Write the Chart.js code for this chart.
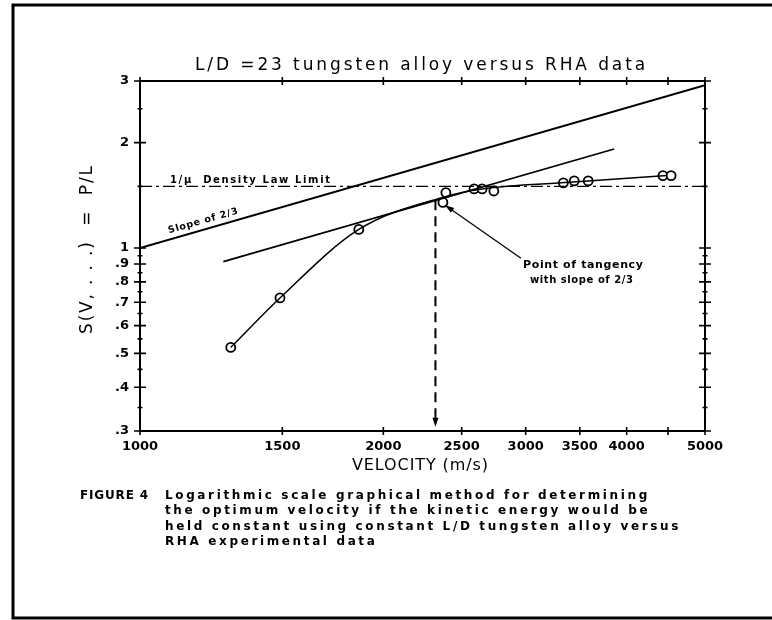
<!DOCTYPE html>
<html>
<head>
<meta charset="utf-8">
<script src="https://cdn.jsdelivr.net/npm/chart.js@4.4.1/dist/chart.umd.min.js"></script>
<style>
  html, body { margin: 0; padding: 0; background: #fff; }
  #wrap { width: 772px; height: 620px; position: relative; }
</style>
</head>
<body>
<div id="wrap"><canvas id="chart"></canvas></div>
<script>
const velocity = [1295, 1490, 1865, 2370, 2390, 2590, 2650, 2740, 3340, 3445, 3585, 4435, 4540];
const sValue   = [0.52, 0.72, 1.13, 1.35, 1.44, 1.475, 1.475, 1.455, 1.535, 1.555, 1.555, 1.61, 1.61];

// hand drawn fit through the data
const fitV = [1295, 1490, 1865, 2380, 2650, 3400, 4490];
const fitS = [0.52, 0.72, 1.13, 1.40, 1.475, 1.54, 1.61];

// slope 2/3 reference line and tangent line
const slopeV = [1000, 5000];
const slopeS = [1.0, 2.92];
const tangentV = [1268, 3860];
const tangentS = [0.914, 1.918];

// 1/mu density law limit
const limitV = [1000, 5000];
const limitS = [1.5, 1.5];

// optimum velocity marker
const tangencyV = [2320, 2320];
const tangencyS = [1.37, 0.325];

const xTicks = [1000, 1500, 2000, 2500, 3000, 3500, 4000, 4500, 5000];
const xLabels = ["1000", "1500", "2000", "2500", "3000", "3500", "4000", "", "5000"];
const yTicks = [0.3, 0.4, 0.5, 0.6, 0.7, 0.8, 0.9, 1, 2, 3];
const yLabels = [".3", ".4", ".5", ".6", ".7", ".8", ".9", "1", "2", "3"];
const yMinor = [0.35, 0.45, 0.55, 0.65, 0.75, 0.85, 0.95, 1.5, 2.5];

const caption = [
  "Logarithmic scale graphical method for determining",
  "the optimum velocity if the kinetic energy would be",
  "held constant using constant L/D tungsten alloy versus",
  "RHA experimental data"
];

const pts = (xs, ys) => xs.map((v, i) => ({ x: v, y: ys[i] }));

// stretch a line of text to a given width with letter spacing
function spread(ctx, text, x, y, width) {
  ctx.letterSpacing = "0px";
  const w = ctx.measureText(text).width;
  const ls = text.length > 1 ? (width - w) / (text.length - 1) : 0;
  ctx.letterSpacing = ls.toFixed(2) + "px";
  ctx.fillText(text, x, y);
  ctx.letterSpacing = "0px";
  return ls;
}

function arrowHead(ctx, x0, y0, x1, y1, len, half) {
  const ang = Math.atan2(y1 - y0, x1 - x0);
  ctx.beginPath();
  ctx.moveTo(x1, y1);
  ctx.lineTo(x1 - len * Math.cos(ang) + half * Math.sin(ang), y1 - len * Math.sin(ang) - half * Math.cos(ang));
  ctx.lineTo(x1 - len * Math.cos(ang) - half * Math.sin(ang), y1 - len * Math.sin(ang) + half * Math.cos(ang));
  ctx.closePath();
  ctx.fill();
}

const decor = {
  id: "decor",
  afterDatasetsDraw(chart) {
    const { ctx, chartArea: a, scales: { x, y } } = chart;
    ctx.save();
    ctx.strokeStyle = "#000";
    ctx.fillStyle = "#000";

    // plot box
    ctx.lineWidth = 2;
    ctx.strokeRect(a.left, a.top, a.right - a.left, a.bottom - a.top);

    // tick marks on all four sides
    ctx.lineWidth = 1.6;
    ctx.beginPath();
    yTicks.forEach(v => {
      const p = y.getPixelForValue(v);
      ctx.moveTo(a.left - 6, p); ctx.lineTo(a.left + 6, p);
      ctx.moveTo(a.right - 6, p); ctx.lineTo(a.right + 6, p);
    });
    yMinor.forEach(v => {
      const p = y.getPixelForValue(v);
      ctx.moveTo(a.left - 2.5, p); ctx.lineTo(a.left + 2.5, p);
      ctx.moveTo(a.right - 2.5, p); ctx.lineTo(a.right + 2.5, p);
    });
    xTicks.forEach(v => {
      const p = x.getPixelForValue(v);
      ctx.moveTo(p, a.bottom - 4); ctx.lineTo(p, a.bottom + 4);
      ctx.moveTo(p, a.top - 4); ctx.lineTo(p, a.top + 4);
    });
    ctx.stroke();

    // arrow head at the bottom of the optimum velocity marker
    const vx = x.getPixelForValue(tangencyV[0]);
    const vy = y.getPixelForValue(tangencyS[1]);
    arrowHead(ctx, vx, vy - 10, vx, vy + 8, 9, 3);

    // pointer to the point of tangency
    const px0 = x.getPixelForValue(2960), py0 = y.getPixelForValue(0.935);
    const px1 = x.getPixelForValue(2385), py1 = y.getPixelForValue(1.325);
    ctx.lineWidth = 1.3;
    ctx.beginPath();
    ctx.moveTo(px0, py0); ctx.lineTo(px1, py1);
    ctx.stroke();
    arrowHead(ctx, px0, py0, px1, py1, 9, 3);
    ctx.restore();
  },
  afterDraw(chart) {
    const { ctx } = chart;
    ctx.save();
    ctx.fillStyle = "#000";
    ctx.strokeStyle = "#000";

    // page frame
    ctx.lineWidth = 3;
    ctx.beginPath();
    ctx.moveTo(772, 5); ctx.lineTo(13, 5); ctx.lineTo(13, 618); ctx.lineTo(772, 618);
    ctx.stroke();

    ctx.textBaseline = "middle";
    ctx.textAlign = "left";

    ctx.font = "17px 'DejaVu Sans'";
    spread(ctx, "L/D =23 tungsten alloy versus RHA data", 195, 66, 450);

    ctx.font = "16px 'DejaVu Sans'";
    spread(ctx, "VELOCITY (m/s)", 352, 466, 136);

    ctx.save();
    ctx.translate(88, 250);
    ctx.rotate(-Math.PI / 2);
    ctx.font = "17px 'DejaVu Sans'";
    spread(ctx, "S(V, . . .)  =  P/L", -84, 0, 168);
    ctx.restore();

    ctx.font = "bold 10px 'DejaVu Sans'";
    spread(ctx, "1/\u03bc  Density Law Limit", 170, 180, 160);

    ctx.save();
    ctx.translate(203, 221);
    ctx.rotate(-Math.atan(0.289));
    ctx.font = "bold 9.5px 'DejaVu Sans'";
    spread(ctx, "Slope of 2/3", -36, 0, 72);
    ctx.restore();

    ctx.font = "bold 11px 'DejaVu Sans'";
    spread(ctx, "Point of tangency", 523, 265, 120);
    ctx.font = "bold 10px 'DejaVu Sans'";
    spread(ctx, "with slope of 2/3", 530, 280, 103);

    // caption: first line sets the spacing, the rest reuse it
    ctx.font = "bold 12px 'DejaVu Sans'";
    spread(ctx, "FIGURE 4", 80, 496, 68);
    const ls = spread(ctx, caption[0], 165, 496, 482);
    ctx.letterSpacing = ls.toFixed(2) + "px";
    caption.slice(1).forEach((line, i) => {
      ctx.fillText(line, 165, 496 + (i + 1) * 15.3);
    });
    ctx.letterSpacing = "0px";
    ctx.restore();
  }
};

const thin = { pointRadius: 0, fill: false, borderColor: "#000" };

new Chart(document.getElementById("chart"), {
  type: "line",
  data: {
    datasets: [
      { ...thin, label: "fit", data: pts(fitV, fitS), borderWidth: 1.5, cubicInterpolationMode: "monotone" },
      { ...thin, label: "slope 2/3", data: pts(slopeV, slopeS), borderWidth: 2 },
      { ...thin, label: "tangent", data: pts(tangentV, tangentS), borderWidth: 1.8 },
      { ...thin, label: "density limit", data: pts(limitV, limitS), borderWidth: 1.4, borderDash: [12, 4, 3, 4] },
      { ...thin, label: "optimum", data: pts(tangencyV, tangencyS), borderWidth: 2, borderDash: [10, 6] },
      {
        label: "RHA data", data: pts(velocity, sValue), showLine: false,
        pointRadius: 4.5, pointHoverRadius: 4.5, pointBorderWidth: 1.8,
        pointBackgroundColor: "#fff", pointBorderColor: "#000"
      }
    ]
  },
  options: {
    responsive: true,
    maintainAspectRatio: false,
    animation: false,
    events: [],
    layout: { padding: { left: 0, top: 81, right: 67, bottom: 159 } },
    plugins: { legend: { display: false }, tooltip: { enabled: false } },
    scales: {
      x: {
        type: "logarithmic", min: 1000, max: 5000,
        afterBuildTicks: s => { s.ticks = xTicks.map(v => ({ value: v })); },
        afterFit: s => { s.height = 30; },
        grid: { display: false, drawTicks: false },
        border: { display: false },
        ticks: {
          autoSkip: false, maxRotation: 0, padding: 8, color: "#000",
          font: { family: "'DejaVu Sans'", size: 13, weight: "bold" },
          callback: (v, i) => xLabels[i]
        }
      },
      y: {
        type: "logarithmic", min: 0.3, max: 3,
        afterBuildTicks: s => { s.ticks = yTicks.map(v => ({ value: v })); },
        afterFit: s => { s.width = 140; },
        grid: { display: false, drawTicks: false },
        border: { display: false },
        ticks: {
          autoSkip: false, padding: 11, color: "#000",
          font: { family: "'DejaVu Sans'", size: 13, weight: "bold" },
          callback: (v, i) => yLabels[i]
        }
      }
    }
  },
  plugins: [decor]
});
</script>
</body>
</html>
